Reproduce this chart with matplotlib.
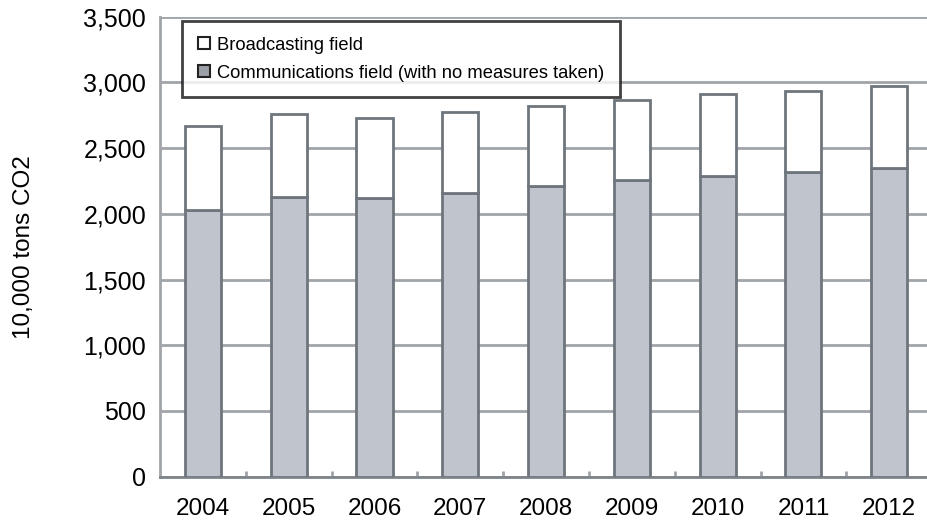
import matplotlib.pyplot as plt
from matplotlib.patches import Patch
import numpy as np

years = ["2004", "2005", "2006", "2007", "2008", "2009", "2010", "2011", "2012"]
communications = [2028, 2130, 2117, 2160, 2214, 2257, 2288, 2320, 2351]
totals = [2671, 2760, 2727, 2773, 2821, 2867, 2911, 2938, 2969]
broadcasting = [t - c for t, c in zip(totals, communications)]

plt.rcParams['font.family'] = ['Liberation Sans', 'DejaVu Sans']

grid_col = '#a0a5aa'
edge_col = '#6e757c'
fill_col = '#c0c4cc'

fig = plt.figure(figsize=(9.27, 5.23), dpi=100)
ax = fig.add_axes([160 / 927, 1 - 476.7 / 523, 1 - 160 / 927, (476.7 - 16.7) / 523])

x = np.arange(len(years))
ax.bar(x, communications, width=0.42, color=fill_col, edgecolor=edge_col, linewidth=2, zorder=3)
ax.bar(x, broadcasting, bottom=communications, width=0.42, color='white',
       edgecolor=edge_col, linewidth=2, zorder=3)

ax.set_xlim(-0.5, 8.44)
ax.set_ylim(0, 3500)
ax.set_yticks(range(0, 3501, 500))
ax.set_yticklabels([f"{v:,}" for v in range(0, 3501, 500)], fontsize=18)
ax.set_xticks(x)
ax.set_xticklabels(years, fontsize=17.5)
ax.set_xticks(x[:-1] + 0.5, minor=True)
ax.tick_params(axis='x', which='major', length=0, pad=15)
ax.tick_params(axis='x', which='minor', direction='in', length=4, width=2, color=grid_col)
ax.tick_params(axis='y', length=0, pad=10)

ax.grid(axis='y', color=grid_col, linewidth=2, zorder=0)
ax.set_axisbelow(True)
for s in ['top', 'right']:
    ax.spines[s].set_visible(False)
for s in ['left', 'bottom']:
    ax.spines[s].set_color(grid_col)
    ax.spines[s].set_linewidth(2)
ax.spines['bottom'].set_color('#7d848a')

ax.set_ylabel("10,000 tons CO2", fontsize=17.5)
ax.yaxis.set_label_coords(-0.163, 0.5)

handles = [Patch(facecolor='white', edgecolor='#222222', linewidth=1.5, label='Broadcasting field'),
           Patch(facecolor='#9aa0a6', edgecolor='#222222', linewidth=1.5,
                 label='Communications field (with no measures taken)')]
leg = ax.legend(handles=handles, loc='upper left', bbox_to_anchor=(0.0287, 0.9907),
                fontsize=13.2, frameon=True, fancybox=False, handlelength=0.65,
                handleheight=0.65, handletextpad=0.4, borderpad=0.85, labelspacing=0.6,
                borderaxespad=0)
leg.get_frame().set_edgecolor('#111111')
leg.get_frame().set_linewidth(2)
leg.set_zorder(5)

fig.savefig("out.png", dpi=100)
